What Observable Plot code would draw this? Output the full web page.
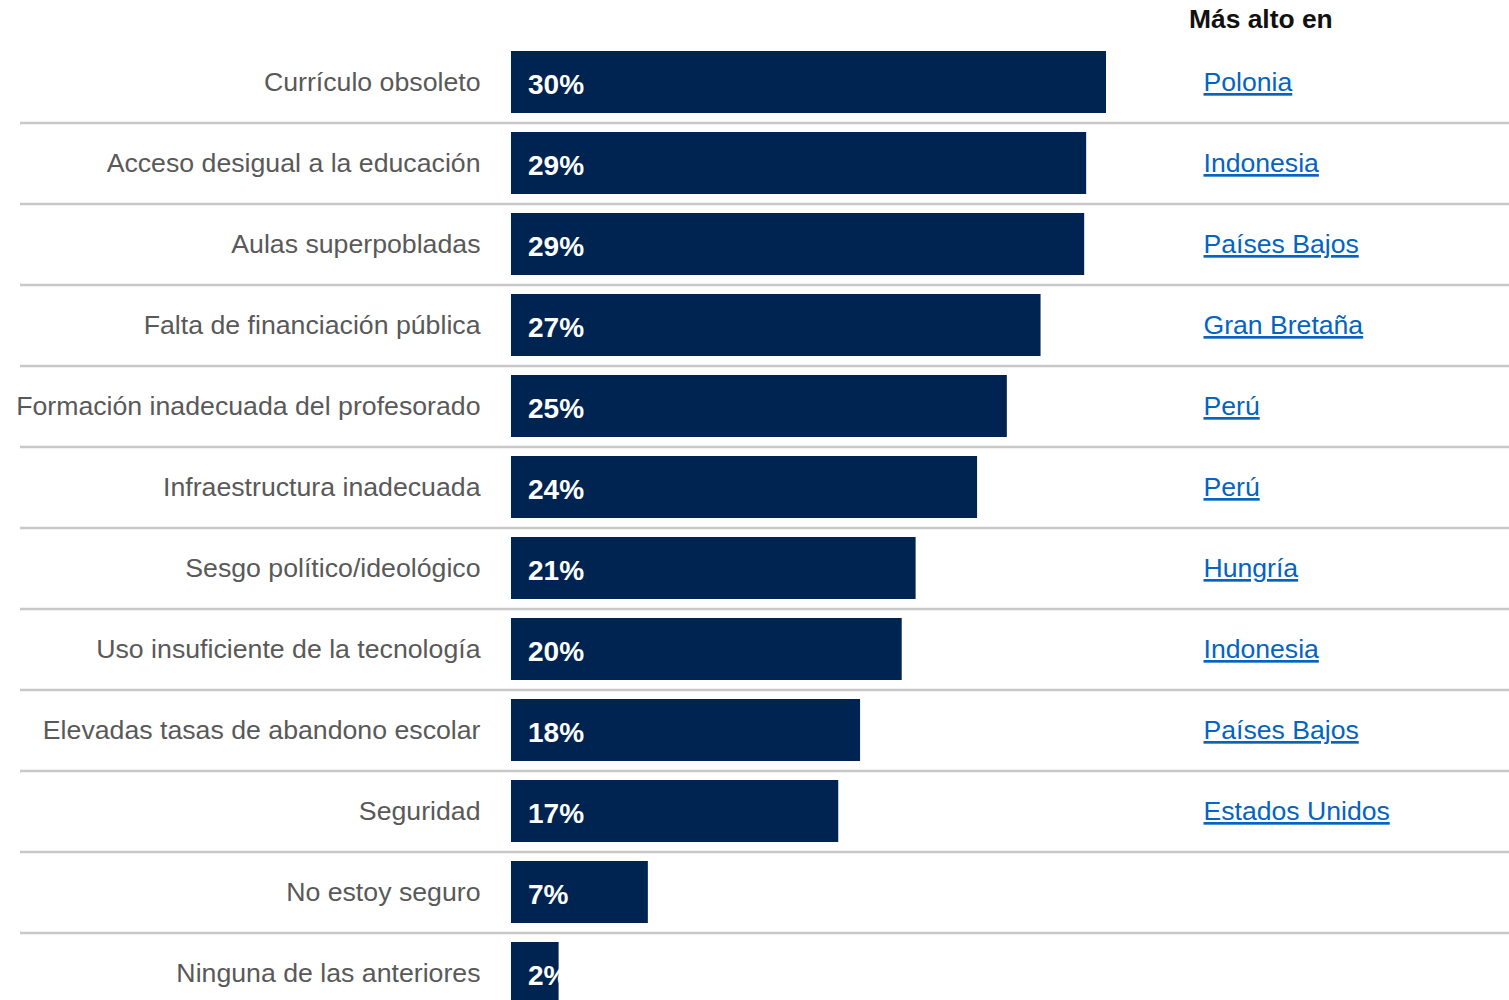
<!DOCTYPE html>
<html>
<head>
<meta charset="utf-8">
<script src="https://cdn.jsdelivr.net/npm/d3@7"></script>
<script src="https://cdn.jsdelivr.net/npm/@observablehq/plot@0.6"></script>
<style>
  html, body { margin: 0; padding: 0; background: #fff; }
  #wrap { position: relative; width: 1509px; }
  #header { position: absolute; top: 4px; left: 1189px; font: bold 26.4px "Liberation Sans", Arial, sans-serif; color: #111; white-space: nowrap; }
</style>
</head>
<body>
<div id="wrap">
  <div id="header">Más alto en</div>
  <div id="chart"></div>
</div>
<script>
const categories = [
  "Currículo obsoleto",
  "Acceso desigual a la educación",
  "Aulas superpobladas",
  "Falta de financiación pública",
  "Formación inadecuada del profesorado",
  "Infraestructura inadecuada",
  "Sesgo político/ideológico",
  "Uso insuficiente de la tecnología",
  "Elevadas tasas de abandono escolar",
  "Seguridad",
  "No estoy seguro",
  "Ninguna de las anteriores"
];
const values = [30, 29, 28.9, 26.7, 25, 23.5, 20.4, 19.7, 17.6, 16.5, 6.9, 2.4];
const valueLabels = ["30%", "29%", "29%", "27%", "25%", "24%", "21%", "20%", "18%", "17%", "7%", "2%"];
const highestIn = ["Polonia", "Indonesia", "Países Bajos", "Gran Bretaña", "Perú", "Perú", "Hungría", "Indonesia", "Países Bajos", "Estados Unidos", "", ""];

const data = categories.map((c, i) => ({cat: c, value: values[i], label: valueLabels[i], country: highestIn[i]}));
const font = '"Liberation Sans", Arial, sans-serif';

const chart = Plot.plot({
  width: 1509,
  height: 1030,
  marginLeft: 20,
  marginRight: 0,
  marginTop: 0,
  marginBottom: 0,
  style: {fontFamily: font, background: "#fff"},
  x: {domain: [0, 30], range: [511, 1106], axis: null},
  y: {domain: categories, range: [32, 1023], padding: 19 / 81, round: false, axis: null},
  marks: [
    Plot.ruleY(data.slice(1), {y: "cat", dy: -40.5, stroke: "#c8c8c8", strokeWidth: 2.5}),
    Plot.barX(data, {x: "value", y: "cat", fill: "#002452"}),
    Plot.text(data, {x: 0, y: "cat", text: "cat", textAnchor: "end", dx: -31, fill: "#595959", fontSize: 26.7}),
    Plot.text(data, {x: 0, y: "cat", text: "label", textAnchor: "start", dx: 16.5, dy: 2.5, fill: "#fff", fontSize: 28, fontWeight: "bold"}),
    Plot.text(data.filter(d => d.country), {y: "cat", text: "country", frameAnchor: "right", textAnchor: "start", dx: -306, fill: "#0563c1", fontSize: 26.6})
  ]
});
d3.select(chart).selectAll('g[fill="#0563c1"] text').style("text-decoration", "underline");
document.getElementById("chart").appendChild(chart);
</script>
</body>
</html>
